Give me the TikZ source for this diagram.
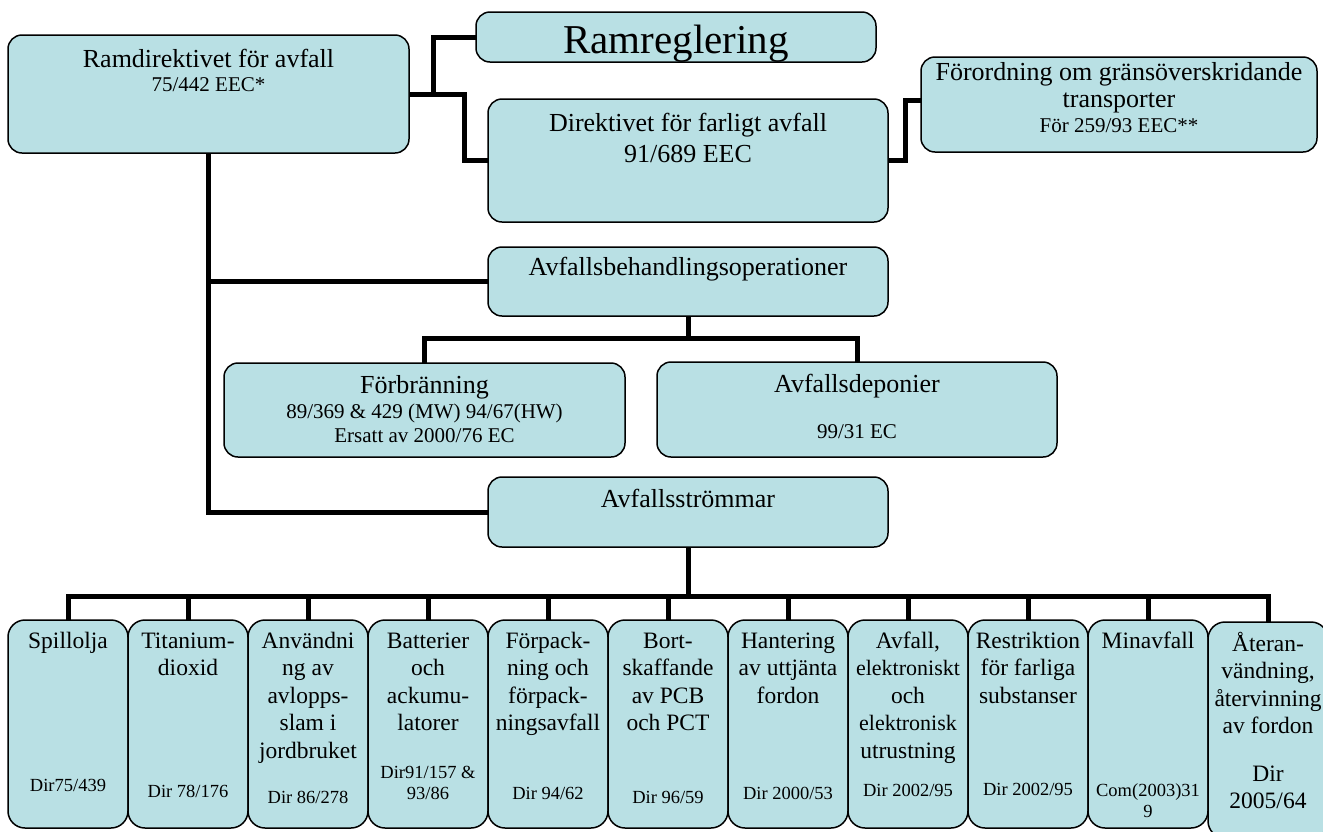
\documentclass[tikz,border=0pt]{standalone}
\usepackage{fontspec}
\setmainfont{Liberation Serif}
\usetikzlibrary{calc,backgrounds}
\pgfdeclarelayer{paper}
\pgfsetlayers{paper,background,main}
\definecolor{boxfill}{RGB}{185,224,228}
\newcommand\fntT{\fontsize{41}{48}\selectfont}
\newcommand\fntM{\fontsize{26}{30}\selectfont}
\newcommand\fntS{\fontsize{21}{24}\selectfont}
\newcommand\fntB{\fontsize{23.5}{27.5}\selectfont}
\newcommand\fntD{\fontsize{18.5}{21.5}\selectfont}
\newcommand\fntE{\fontsize{22}{27.5}\selectfont}
\begin{document}
\begin{tikzpicture}[x=1pt,y=-1pt,
  box/.style={draw=black, line width=1.5pt, fill=boxfill, rounded corners=14pt, inner sep=0pt, outer sep=0pt},
  lowbox/.style={box, rounded corners=17pt, minimum width=120pt, minimum height=208pt},
  conn/.style={draw=black, line width=5pt},
  tx/.style={anchor=north, inner sep=0pt, align=center}]
\useasboundingbox (0,0) rectangle (1323,831);
\begin{pgfonlayer}{paper}
  \fill[white] (0,0) rectangle (1323,831);
\end{pgfonlayer}

% top boxes
\node[box, minimum width=401pt, minimum height=118pt] (ram) at (208.5,94) {};
\node[box, minimum width=400pt, minimum height=50pt] (rr) at (676,37) {};
\node[box, minimum width=400pt, minimum height=123pt] (dir) at (688,160.5) {};
\node[box, minimum width=396pt, minimum height=95pt] (forord) at (1119,104.5) {};
\node[box, minimum width=400pt, minimum height=69pt] (beh) at (688,281.5) {};
\node[box, minimum width=401pt, minimum height=94pt] (forb) at (424.5,410) {};
\node[box, minimum width=400pt, minimum height=95pt] (dep) at (857,409.5) {};
\node[box, minimum width=400pt, minimum height=70pt] (strom) at (688,512) {};

% bottom boxes
\foreach \i in {1,...,10} {
  \node[lowbox] (b\i) at ({68+120*(\i-1)},724) {};
}
\node[lowbox, minimum height=216pt] (b11) at (1268,730) {};

% connectors
\begin{pgfonlayer}{background}
  \draw[conn] (ram.east) -- ++(24,0) |- (rr.west);
  \draw[conn] (ram.east) -- ++(55,0) |- (dir.west);
  \draw[conn] (dir.east) -- ++(17,0) |- ([yshift=4pt]forord.west);
  \draw[conn] (ram.south) |- (beh.west);
  \draw[conn] (ram.south) |- (strom.west);
  \coordinate (bj) at ($(beh.south)+(0,22)$);
  \draw[conn] (beh.south) -- (bj);
  \draw[conn] (forb.north) |- (bj) -| (dep.north);
  \coordinate (sj) at ($(strom.south)+(0,49)$);
  \draw[conn] (strom.south) -- (sj);
  \foreach \i in {1,...,11} {
    \draw[conn] (sj) -| (b\i.north);
  }
\end{pgfonlayer}

% texts of top boxes
\node[tx, font=\fntM] (ram-t1) at (208.5,46) {\strut Ramdirektivet för avfall};
\node[tx, font=\fntS] (ram-t2) at (208.5,74.2) {\strut 75/442 EEC*};
\node[tx, font=\fntT] (rr-t) at (676,19.4) {\strut Ramreglering};
\node[tx, font=\fontsize{26}{31}\selectfont] (dir-t) at (688,109.3) {\strut Direktivet för farligt avfall\\91/689 EEC};
\node[tx, font=\fontsize{26}{27}\selectfont] (forord-t1) at (1119,61.1) {\strut Förordning om gränsöverskridande\\transporter};
\node[tx, font=\fntS] (forord-t2) at (1119,115.2) {\strut För 259/93 EEC**};
\node[tx, font=\fntM] (beh-t) at (688,254) {\strut Avfallsbehandlingsoperationer};
\node[tx, font=\fntM] (forb-t1) at (424.5,372) {\strut Förbränning};
\node[tx, font=\fntS] (forb-t2) at (424.5,401.2) {\strut 89/369 \& 429 (MW) 94/67(HW)\\Ersatt av 2000/76 EC};
\node[tx, font=\fntM] (dep-t1) at (857,371) {\strut Avfallsdeponier};
\node[tx, font=\fntS] (dep-t2) at (857,421.2) {\strut 99/31 EC};
\node[tx, font=\fntM] (strom-t) at (688,486) {\strut Avfallsströmmar};

% titles of bottom boxes
\node[tx, font=\fntB] (b1-t) at (68,628.75) {\strut Spillolja};
\node[tx, font=\fntB] (b2-t) at (188,628.75) {\strut Titanium-\\dioxid};
\node[tx, font=\fntB] (b3-t) at (308,628.75) {\strut Användni\\ng av\\avlopps-\\slam i\\jordbruket};
\node[tx, font=\fntB] (b4-t) at (428,628.75) {\strut Batterier\\och\\ackumu-\\latorer};
\node[tx, font=\fntB] (b5-t) at (548,628.75) {\strut Förpack-\\ning och\\förpack-\\ningsavfall};
\node[tx, font=\fntB] (b6-t) at (668,628.75) {\strut Bort-\\skaffande\\av PCB\\och PCT};
\node[tx, font=\fntB] (b7-t) at (788,628.75) {\strut Hantering\\av uttjänta\\fordon};
\node[tx, font=\fntB] (b8-t) at (908,628.75) {\strut Avfall,\\{\fntE elektroniskt}\\och\\{\fntE elektronisk}\\utrustning};
\node[tx, font=\fntB] (b9-t) at (1028,628.75) {\strut Restriktion\\för farliga\\substanser};
\node[tx, font=\fntB] (b10-t) at (1148,628.75) {\strut Minavfall};
\node[tx, font=\fntB] (b11-t) at (1268,631.75) {\strut Återan-\\vändning,\\återvinning\\av fordon};

% directive numbers of bottom boxes
\node[tx, font=\fntD] (b1-d) at (68,775.95) {\strut Dir75/439};
\node[tx, font=\fntD] (b2-d) at (188,782) {\strut Dir 78/176};
\node[tx, font=\fntD] (b3-d) at (308,788) {\strut Dir 86/278};
\node[tx, font=\fntD] (b4-d) at (428,763) {\strut Dir91/157 \&\\93/86};
\node[tx, font=\fntD] (b5-d) at (548,784) {\strut Dir 94/62};
\node[tx, font=\fntD] (b6-d) at (668,788) {\strut Dir 96/59};
\node[tx, font=\fntD] (b7-d) at (788,784) {\strut Dir 2000/53};
\node[tx, font=\fntD] (b8-d) at (908,781) {\strut Dir 2002/95};
\node[tx, font=\fntD] (b9-d) at (1028,780) {\strut Dir 2002/95};
\node[tx, font=\fntD] (b10-d) at (1148,781) {\strut Com(2003)31\\9};
\node[tx, font=\fntB] (b11-d) at (1268,761.75) {\strut Dir\\2005/64};
\end{tikzpicture}
\end{document}
